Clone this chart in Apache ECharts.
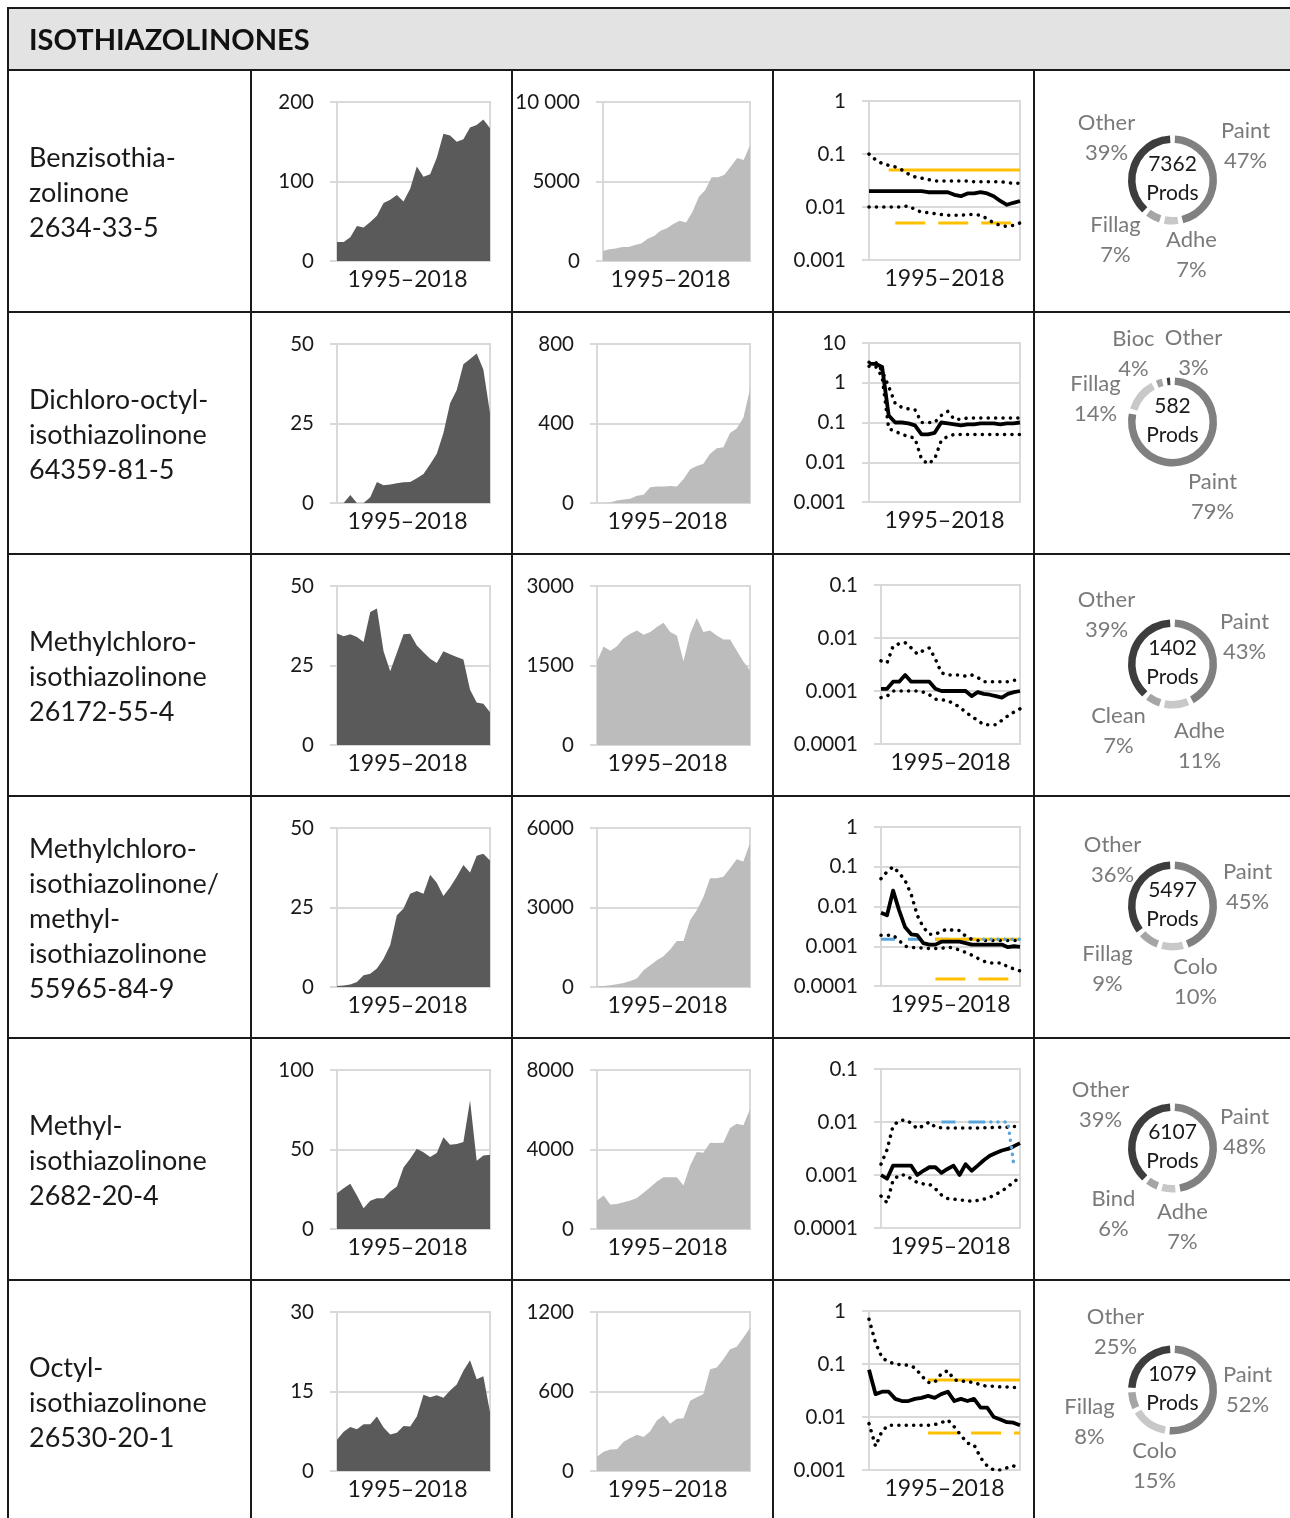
<!DOCTYPE html>
<html><head><meta charset="utf-8">
<script src="https://cdn.jsdelivr.net/npm/echarts@6/dist/echarts.min.js"></script>
<style>html,body{margin:0;padding:0;background:#fff}#c{width:1290px;height:1518px}</style>
</head><body><div id="c"></div>
<script>
// ---------------- DATA ----------------
const years = ['1995','1996','1997','1998','1999','2000','2001','2002','2003','2004','2005','2006','2007','2008','2009','2010','2011','2012','2013','2014','2015','2016','2017','2018'];
const substanceNames = [
  'Benzisothia-\nzolinone\n2634-33-5',
  'Dichloro-octyl-\nisothiazolinone\n64359-81-5',
  'Methylchloro-\nisothiazolinone\n26172-55-4',
  'Methylchloro-\nisothiazolinone/\nmethyl-\nisothiazolinone\n55965-84-9',
  'Methyl-\nisothiazolinone\n2682-20-4',
  'Octyl-\nisothiazolinone\n26530-20-1'
];
const headerTitle = 'ISOTHIAZOLINONES';
const periodLabel = '1995–2018';

// dark area charts
const darkMax = [200, 50, 50, 50, 100, 30];
const dark1 = [24, 24, 30, 44, 42, 49, 57, 73, 77, 83, 75, 91, 119, 106, 109, 130, 160, 158, 150, 153, 168, 171, 178, 167];
const dark2 = [0, 0, 2.5, 0, 0, 1.8, 6.6, 5.6, 5.8, 6.2, 6.5, 6.6, 7.8, 9.1, 12.2, 15.5, 22, 31.4, 35.5, 43.6, 45.3, 47, 42, 28.3];
const dark3 = [35.1, 34.2, 34.8, 34, 32.4, 41.8, 42.9, 29.5, 23.2, 29, 34.8, 35, 31.3, 29.2, 27.1, 25.8, 29.5, 28.5, 27.7, 26.9, 17.4, 13.4, 13, 10.3];
const dark4 = [0.3, 0.5, 0.8, 1.6, 3.7, 4.2, 5.8, 8.9, 13.2, 22.6, 24.7, 29.3, 30.2, 29.3, 35.3, 32.8, 28.6, 31.4, 34.7, 38.4, 36, 41.3, 41.9, 39.8];
const dark5 = [22.5, 25.7, 28.4, 21, 13, 17.7, 19.4, 19.4, 23.6, 26.7, 38.7, 44.2, 50.5, 48.2, 45.3, 47.8, 57.7, 53, 53.5, 54.7, 80.8, 42.9, 46.3, 46.7];
const dark6 = [5.9, 7.4, 8.3, 7.9, 8.8, 8.8, 10.3, 8.2, 6.9, 7.2, 8.5, 8.4, 10.3, 14.4, 13.9, 14.3, 13.8, 15.2, 16.3, 18.9, 20.9, 17.3, 17.9, 11.1];

// light area charts
const lightMax = [10000, 800, 3000, 6000, 8000, 1200];
const light1 = [630, 740, 780, 880, 880, 1000, 1100, 1400, 1580, 1900, 2060, 2320, 2530, 2420, 3100, 4040, 4460, 5260, 5260, 5430, 5940, 6480, 6360, 7260];
const light2 = [0, 0, 3, 12, 17, 21, 36, 41, 79, 83, 83, 86, 83, 120, 170, 186, 198, 248, 276, 281, 352, 375, 429, 573];
const light3 = [1575, 1860, 1780, 1865, 2015, 2100, 2160, 2080, 2130, 2225, 2305, 2130, 2065, 1580, 2100, 2395, 2130, 2160, 2065, 1990, 1990, 1785, 1575, 1405];
const light4 = [25, 40, 65, 100, 150, 230, 320, 630, 820, 1010, 1160, 1415, 1740, 1740, 2525, 2900, 3400, 4100, 4100, 4165, 4480, 4820, 4735, 5430];
const light5 = [1430, 1680, 1230, 1260, 1345, 1430, 1565, 1820, 2100, 2390, 2610, 2610, 2610, 2190, 3200, 3870, 3840, 4340, 4330, 4340, 5085, 5300, 5220, 6025];
const light6 = [107, 145, 162, 165, 220, 250, 274, 257, 300, 382, 419, 357, 394, 399, 531, 556, 581, 768, 781, 843, 918, 938, 1005, 1080];

// log charts
const logMin = [0.001, 0.001, 0.0001, 0.0001, 0.0001, 0.001];
const logMax = [1, 10, 0.1, 1, 0.1, 1];
const median1 = [0.02,0.02,0.02,0.02,0.02,0.02,0.02,0.02,0.02,0.019,0.019,0.019,0.019,0.017,0.016,0.018,0.018,0.019,0.018,0.016,0.013,0.011,0.012,0.013];
const upper1 = [0.1,0.078,0.066,0.061,0.057,0.05,0.042,0.037,0.035,0.033,0.031,0.031,0.031,0.031,0.031,0.031,0.03,0.03,0.03,0.03,0.03,0.029,0.028,0.028];
const lower1 = [0.01,0.01,0.01,0.01,0.01,0.01,0.0105,0.009,0.008,0.0078,0.0075,0.0072,0.007,0.007,0.007,0.0072,0.0072,0.007,0.006,0.005,0.0045,0.0043,0.0045,0.005];
const orange1 = [null,null,null,0.05,0.05,0.05,0.05,0.05,0.05,0.05,0.05,0.05,0.05,0.05,0.05,0.05,0.05,0.05,0.05,0.05,0.05,0.05,0.05,0.05];
const orangeDash1 = [null,null,null,null,0.005,0.005,0.005,0.005,0.005,0.005,0.005,0.005,0.005,0.005,0.005,0.005,0.005,0.005,0.005,0.005,0.005,0.005,0.005,0.005];

const median2 = [3,3,2.5,0.15,0.1,0.1,0.095,0.085,0.05,0.05,0.055,0.1,0.095,0.09,0.085,0.09,0.09,0.095,0.095,0.095,0.09,0.095,0.095,0.1];
const upper2 = [3.3,3.3,2.0,0.8,0.3,0.24,0.22,0.21,0.1,0.1,0.1,0.15,0.19,0.12,0.12,0.13,0.13,0.13,0.13,0.13,0.13,0.13,0.13,0.13];
const lower2 = [2.6,2.6,1.4,0.07,0.06,0.05,0.045,0.04,0.012,0.009,0.012,0.035,0.045,0.05,0.05,0.05,0.05,0.05,0.05,0.05,0.05,0.05,0.05,0.05];

const median3 = [0.0011,0.0011,0.0015,0.0015,0.002,0.0015,0.0015,0.0015,0.0015,0.0011,0.001,0.001,0.001,0.001,0.001,0.0008,0.00095,0.00088,0.00085,0.0008,0.00075,0.00088,0.00095,0.001];
const upper3 = [0.0037,0.0034,0.007,0.0078,0.0082,0.0065,0.005,0.0058,0.0065,0.004,0.0022,0.002,0.002,0.002,0.0019,0.002,0.0018,0.0015,0.0015,0.0015,0.0015,0.0015,0.0016,0.0016];
const lower3 = [0.00075,0.0008,0.001,0.001,0.001,0.001,0.001,0.00095,0.00085,0.0007,0.00068,0.00066,0.00058,0.0005,0.0004,0.00033,0.00028,0.00023,0.00023,0.00023,0.00028,0.00034,0.0004,0.00046];

const median4 = [0.007,0.006,0.025,0.008,0.003,0.002,0.0019,0.0012,0.0011,0.0011,0.0013,0.0013,0.0013,0.0013,0.0012,0.0011,0.0011,0.0011,0.0011,0.0011,0.0011,0.00095,0.001,0.00097];
const upper4 = [0.05,0.075,0.1,0.07,0.045,0.02,0.006,0.003,0.002,0.002,0.0024,0.0027,0.0025,0.0025,0.0018,0.0015,0.0014,0.0014,0.0014,0.0014,0.0014,0.0014,0.0014,0.0014];
const lower4 = [0.0019,0.0019,0.0019,0.0014,0.001,0.00093,0.00092,0.0009,0.00088,0.00088,0.00088,0.00095,0.0009,0.0008,0.0007,0.0006,0.0005,0.00042,0.00038,0.00038,0.00038,0.0003,0.00027,0.00024];
const blueDash4 = [0.0015,0.0015,0.0015,0.0015,0.0015,0.0015,0.0015,0.0015,0.0015,0.0015,0.0015,0.0015,0.0015,0.0015,0.0015,0.0015,0.0015,0.0015,null,null,null,null,null,null];
const blueDot4 = [null,null,null,null,null,null,null,null,null,null,null,null,null,null,null,null,null,0.0015,0.0015,0.0015,0.0015,0.0015,0.0015,0.0015];
const orange4 = [null,null,null,null,null,null,null,null,null,0.0015,0.0015,0.0015,0.0015,0.0015,0.0015,0.0015,0.0015,0.0015,0.0015,0.0015,0.0015,0.0015,0.0015,0.0015];
const orangeDash4 = [null,null,null,null,null,null,null,null,null,0.00015,0.00015,0.00015,0.00015,0.00015,0.00015,0.00015,0.00015,0.00015,0.00015,0.00015,0.00015,0.00015,0.00015,0.00015];

const median5 = [0.001,0.00085,0.0015,0.0015,0.0015,0.0015,0.001,0.0012,0.0014,0.0014,0.0011,0.0013,0.0015,0.001,0.0016,0.0012,0.0015,0.0019,0.0023,0.0026,0.0029,0.0031,0.0035,0.004];
const upper5 = [0.0016,0.003,0.0085,0.0105,0.011,0.0095,0.0075,0.0085,0.01,0.008,0.0078,0.0077,0.0077,0.0077,0.0077,0.0077,0.0077,0.0078,0.0078,0.008,0.008,0.008,0.0082,0.0082];
const lower5 = [0.0004,0.0003,0.0008,0.001,0.001,0.00085,0.00072,0.00068,0.00067,0.00055,0.00042,0.00036,0.00035,0.00034,0.00033,0.00032,0.00033,0.00035,0.00038,0.00043,0.0005,0.0006,0.00075,0.0009];
const blueDash5 = [null,null,null,null,null,null,null,null,null,null,0.01,0.01,0.01,0.01,0.01,0.01,0.01,0.01,null,null,null,null,null,null];
const blueDot5 = [null,null,null,null,null,null,null,null,null,null,null,null,null,null,null,null,null,0.01,0.01,0.01,0.01,0.01,0.0015,null];

const median6 = [0.078,0.027,0.03,0.03,0.022,0.02,0.02,0.022,0.023,0.025,0.023,0.027,0.03,0.02,0.022,0.02,0.022,0.015,0.015,0.01,0.009,0.008,0.0078,0.007];
const upper6 = [0.7,0.25,0.13,0.11,0.1,0.097,0.095,0.085,0.06,0.045,0.045,0.065,0.075,0.05,0.048,0.046,0.045,0.04,0.038,0.038,0.037,0.037,0.036,0.036];
const lower6 = [0.0075,0.0028,0.0055,0.007,0.007,0.007,0.007,0.007,0.007,0.007,0.0072,0.0078,0.0088,0.0065,0.0045,0.0032,0.003,0.0017,0.0012,0.001,0.001,0.0011,0.0012,0.001];
const orange6 = [null,null,null,null,null,null,null,null,null,0.05,0.05,0.05,0.05,0.05,0.05,0.05,0.05,0.05,0.05,0.05,0.05,0.05,0.05,0.05];
const orangeDash6 = [null,null,null,null,null,null,null,null,null,0.005,0.005,0.005,0.005,0.005,0.005,0.005,0.005,0.005,0.005,0.005,0.005,0.005,0.005,0.005];

// donuts
const pieCategories = [
  ['Paint','Adhe','Fillag','Other'],
  ['Paint','Fillag','Bioc','Other'],
  ['Paint','Adhe','Clean','Other'],
  ['Paint','Colo','Fillag','Other'],
  ['Paint','Adhe','Bind','Other'],
  ['Paint','Colo','Fillag','Other']
];
const pieShares = [[47,7,7,39],[79,14,4,3],[43,11,7,39],[45,10,9,36],[48,7,6,39],[52,15,8,25]];
const productCounts = [7362, 582, 1402, 5497, 6107, 1079];

// ---------------- LAYOUT / STYLE ----------------
const FONT = 'Lato, "Open Sans", sans-serif';
const TXT = '#1a1a1a';
const GRIDC = '#d9d9d9';
const DARK = '#5a5a5a', LIGHT = '#bcbcbc';
const ORANGE = '#ffc000', BLUE = '#5aa6db';
const ROW0 = 70, ROWH = 242;
const col2Left = [603, 597, 597, 597, 597, 597];
const col3Left = [869, 869, 881, 881, 881, 869];
const pieColors = ['#808080', '#c8c8c8', '#a5a5a5', '#3d3d3d'];
// label centre offsets relative to donut centre (text placement)
const pieLabelOffset = [
  [[73,-34],[19,75],[-57,60],[-66,-42]],
  [[40,75],[-77,-23],[-39,-68],[21,-69]],
  [[72,-27],[27,82],[-54,67],[-66,-49]],
  [[75,-19],[23,76],[-65,63],[-60,-46]],
  [[72,-16],[10,79],[-59,66],[-72,-43]],
  [[75,0],[-18,76],[-83,32],[-57,-58]]
];

const darkSeries = [dark1, dark2, dark3, dark4, dark5, dark6];
const lightSeries = [light1, light2, light3, light4, light5, light6];
const logRows = [
  {median: median1, upper: upper1, lower: lower1, orange: orange1, orangeDash: orangeDash1},
  {median: median2, upper: upper2, lower: lower2},
  {median: median3, upper: upper3, lower: lower3},
  {median: median4, upper: upper4, lower: lower4, blueDash: blueDash4, orange: orange4, orangeDash: orangeDash4, blueDot: blueDot4},
  {median: median5, upper: upper5, lower: lower5, blueDash: blueDash5, blueDot: blueDot5},
  {median: median6, upper: upper6, lower: lower6, orange: orange6, orangeDash: orangeDash6}
];
const lineStyles = {
  blueDash: {color: BLUE, width: 3, type: [14, 13]},
  orange: {color: ORANGE, width: 3},
  orangeDash: {color: ORANGE, width: 3, type: [30, 13]},
  upper: {color: '#000', width: 3.5, type: [0.1, 7.3], cap: 'round'},
  lower: {color: '#000', width: 3.5, type: [0.1, 7.3], cap: 'round'},
  median: {color: '#000', width: 3.8, join: 'round'},
  blueDot: {color: BLUE, width: 3.5, type: [0.1, 7], cap: 'round'}
};
const lineOrder = ['blueDash', 'orange', 'orangeDash', 'upper', 'lower', 'median', 'blueDot'];

function fmtVal(v) { return v >= 10000 ? String(v).replace(/\B(?=(\d{3})+(?!\d))/g, ' ') : String(v); }
function fmtLog(v) {
  const e = Math.round(Math.log10(v));
  return e >= 0 ? String(Math.pow(10, e)) : '0.' + '0'.repeat(-e - 1) + '1';
}
const axisCommon = {
  axisLine: {show: true, lineStyle: {color: GRIDC, width: 2}},
  axisTick: {show: true, length: 7, lineStyle: {color: GRIDC, width: 2}},
  splitLine: {show: true, lineStyle: {color: GRIDC, width: 2}}
};
const TICKFS = 20.5;
function xAx(gi, shiftRight) {
  return {type: 'category', gridIndex: gi, data: years, boundaryGap: false,
    axisLine: {show: true, lineStyle: {color: GRIDC, width: 2}}, axisTick: {show: false},
    axisLabel: {show: false}, splitLine: {show: false},
    name: periodLabel, nameLocation: 'middle', nameGap: 7,
    nameTextStyle: {fontFamily: FONT, fontSize: 23, color: TXT, lineHeight: 23, padding: [0, shiftRight, 0, 0]}};
}
function yVal(gi, max) {
  return Object.assign({type: 'value', gridIndex: gi, min: 0, max: max, interval: max / 2,
    axisLabel: {margin: 23, fontSize: TICKFS, color: TXT, fontFamily: FONT, formatter: fmtVal}}, axisCommon);
}
function yLog(gi, min, max) {
  return Object.assign({type: 'log', logBase: 10, gridIndex: gi, min: min, max: max,
    axisLabel: {margin: 23, fontSize: TICKFS, color: TXT, fontFamily: FONT, formatter: fmtLog}}, axisCommon);
}
function gridBox(left, top, width, height) {
  return {left: left, top: top, width: width, height: height, show: true, borderColor: GRIDC, borderWidth: 2};
}
function areaSeries(gi, data, color) {
  return {type: 'line', xAxisIndex: gi, yAxisIndex: gi, data: data, symbol: 'none', silent: true,
    lineStyle: {width: 0}, areaStyle: {color: color, opacity: 1}};
}

const grids = [], xAxes = [], yAxes = [], series = [], graphics = [];

for (let r = 0; r < 6; r++) {
  const top = ROW0 + ROWH * r;
  const gTop = top + 32, gH = 159;
  // column 1 — dark area
  let gi = grids.length;
  grids.push(gridBox(337, gTop, 153, gH));
  xAxes.push(xAx(gi, 12));
  yAxes.push(yVal(gi, darkMax[r]));
  series.push(areaSeries(gi, darkSeries[r], DARK));
  // column 2 — light area
  gi = grids.length;
  grids.push(gridBox(col2Left[r], gTop, 750 - col2Left[r], gH));
  xAxes.push(xAx(gi, 12));
  yAxes.push(yVal(gi, lightMax[r]));
  series.push(areaSeries(gi, lightSeries[r], LIGHT));
  // column 3 — log lines
  gi = grids.length;
  grids.push(gridBox(col3Left[r], gTop - 1, 1020 - col3Left[r], gH));
  xAxes.push(xAx(gi, 0));
  yAxes.push(yLog(gi, logMin[r], logMax[r]));
  lineOrder.forEach(function (k) {
    if (!logRows[r][k]) return;
    series.push({type: 'line', xAxisIndex: gi, yAxisIndex: gi, data: logRows[r][k], symbol: 'none',
      silent: true, connectNulls: false, lineStyle: lineStyles[k]});
  });
  // column 4 — donut
  const cx = 1172.5, cy = top + 110;
  series.push({type: 'pie', center: [cx, cy], radius: [37, 44.5], startAngle: 90, clockwise: true,
    padAngle: 6.5, avoidLabelOverlap: false, silent: true,
    data: pieCategories[r].map(function (n, i) { return {name: n, value: pieShares[r][i], itemStyle: {color: pieColors[i]}}; }),
    label: {show: true, position: 'outside', formatter: '{b}\n{c}%', fontFamily: FONT, fontSize: 22, lineHeight: 30, color: '#7a7a7a'},
    labelLine: {show: false},
    labelLayout: function (p) {
      const o = pieLabelOffset[r][p.dataIndex];
      return {x: cx + o[0], y: cy + o[1], align: 'center', verticalAlign: 'middle'};
    }
  });
  graphics.push({type: 'text', z: 10, style: {text: productCounts[r] + '\nProds', x: cx, y: cy - 1,
    align: 'center', verticalAlign: 'middle', fontFamily: FONT, fontSize: 21, lineHeight: 29, fill: TXT}});
  // name column
  graphics.push({type: 'text', z: 10, style: {text: substanceNames[r], x: 29, y: top + 123,
    align: 'left', verticalAlign: 'middle', fontFamily: FONT, fontSize: 27, lineHeight: 35, fill: TXT}});
}

// table frame
const LINEC = '#1a1a1a';
graphics.push({type: 'rect', z: 1, shape: {x: 8, y: 8, width: 1300, height: 62}, style: {fill: '#e3e3e3', stroke: LINEC, lineWidth: 2}});
graphics.push({type: 'text', z: 10, style: {text: headerTitle, x: 29, y: 41, align: 'left', verticalAlign: 'middle',
  fontFamily: FONT, fontSize: 29, fontWeight: 'bold', fill: '#111'}});
[8, 251, 512, 773, 1034].forEach(function (x) {
  graphics.push({type: 'line', z: 5, shape: {x1: x, y1: 70, x2: x, y2: 1518}, style: {stroke: LINEC, lineWidth: 2}});
});
[312, 554, 796, 1038, 1280].forEach(function (y) {
  graphics.push({type: 'line', z: 5, shape: {x1: 8, y1: y, x2: 1290, y2: y}, style: {stroke: LINEC, lineWidth: 2}});
});

const chart = echarts.init(document.getElementById('c'), null, {renderer: 'canvas', width: 1290, height: 1518});
chart.setOption({
  animation: false,
  backgroundColor: '#ffffff',
  textStyle: {fontFamily: FONT},
  grid: grids, xAxis: xAxes, yAxis: yAxes, series: series,
  graphic: {elements: graphics}
});
</script></body></html>
